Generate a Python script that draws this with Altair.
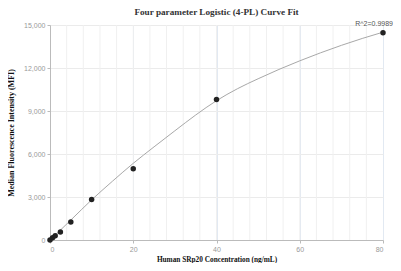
import altair as alt
import pandas as pd

# measured standards
conc = [0, 0.625, 1.25, 2.5, 5, 10, 20, 40, 80]
mfi = [0, 160, 290, 560, 1250, 2820, 4970, 9800, 14460]

# fitted 4-PL curve
curve_x = [0, 1.25, 2.5, 5, 10, 15, 20, 25, 30, 35, 40, 45, 50, 55, 60, 65, 70, 75, 80]
curve_y = [0, 340, 690, 1390, 2800, 4100, 5350, 6500, 7620, 8720, 9720, 10550, 11250, 11900, 12500, 13060, 13580, 14060, 14500]

minor_x = list(range(4, 80, 4))
major_x = [0, 20, 40, 60, 80]
y_ticks = [0, 3000, 6000, 9000, 12000, 15000]

label = ["R^2=0.9989"]

pts = pd.DataFrame({"x": conc, "y": mfi})
crv = pd.DataFrame({"x": curve_x, "y": curve_y})
lab = pd.DataFrame({"x": [conc[-1]], "y": [mfi[-1]], "t": label})
grid = pd.DataFrame({"x": minor_x})

xs = alt.Scale(domain=[0, 80], nice=False)
ys = alt.Scale(domain=[0, 15000], nice=False)

x_axis = alt.Axis(values=major_x, grid=True, gridColor="#e2e9f2",
                  domainColor="#bbbbbb", tickColor="#bbbbbb", tickSize=3,
                  labelColor="#999999", labelFontSize=7, labelFont="Liberation Sans",
                  labelPadding=2,
                  title="Human SRp20 Concentration (ng/mL)", titleFont="Liberation Serif",
                  titleFontSize=7.3, titleFontWeight="bold", titleColor="#111111",
                  titlePadding=3)
y_axis = alt.Axis(values=y_ticks, grid=True, gridColor="#ebebeb",
                  labelExpr="format(datum.value, ',')",
                  domainColor="#bbbbbb", tickColor="#bbbbbb", tickSize=3,
                  labelColor="#999999", labelFontSize=7, labelFont="Liberation Sans",
                  labelPadding=2,
                  title="Median Fluorescence Intensity (MFI)", titleFont="Liberation Serif",
                  titleFontSize=8, titleFontWeight="bold", titleColor="#111111",
                  titlePadding=8)

grid_layer = alt.Chart(grid).mark_rule(color="#f0f0f0", strokeWidth=1).encode(
    x=alt.X("x:Q", scale=xs, axis=x_axis),
)

line = alt.Chart(crv).mark_line(color="#a8a8a8", strokeWidth=1, interpolate="monotone").encode(
    x=alt.X("x:Q", scale=xs, axis=x_axis),
    y=alt.Y("y:Q", scale=ys, axis=y_axis),
)

points = alt.Chart(pts).mark_circle(size=30, color="#222222", opacity=1).encode(
    x=alt.X("x:Q", scale=xs, axis=x_axis),
    y=alt.Y("y:Q", scale=ys, axis=y_axis),
)

text = alt.Chart(lab).mark_text(dy=-9, dx=10, align="right", fontSize=7, font="Liberation Sans", color="#555555").encode(
    x=alt.X("x:Q", scale=xs, axis=x_axis),
    y=alt.Y("y:Q", scale=ys, axis=y_axis),
    text="t:N",
)

chart = alt.layer(grid_layer, line, points, text).properties(
    width=333, height=215,
    title=alt.TitleParams("Four parameter Logistic (4-PL) Curve Fit", font="Liberation Serif", fontSize=9.2,
                          fontWeight="bold", color="#333333", anchor="middle", offset=3),
    autosize=alt.AutoSizeParams(type="none"),
    padding={"left": 42, "top": 17, "right": 10, "bottom": 23},
).configure_view(stroke=None)

chart.save("out.html", embed_options={"renderer": "svg", "actions": False})
